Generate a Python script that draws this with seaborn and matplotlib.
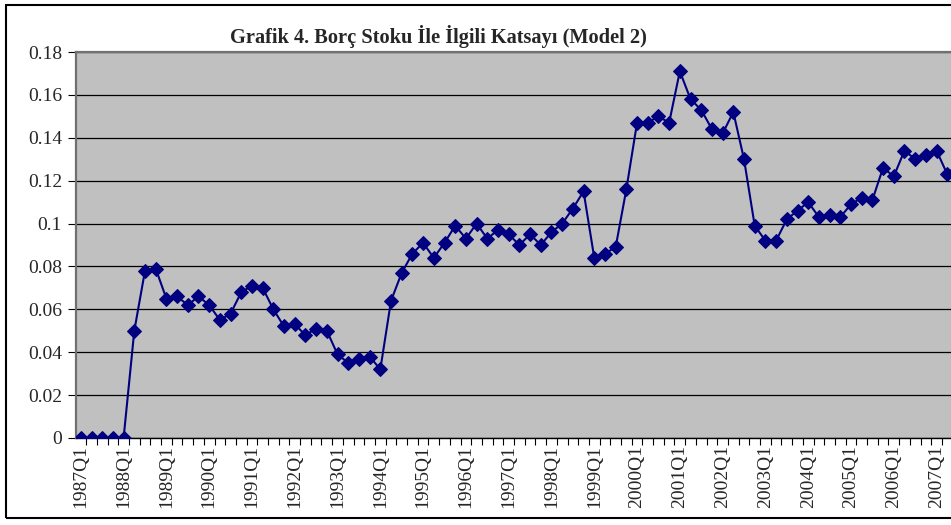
# -*- coding: utf-8 -*-

import matplotlib
matplotlib.use("Agg")
import matplotlib.pyplot as plt
from matplotlib.patches import Rectangle
import seaborn as sns
import pandas as pd
import numpy as np

years = list(range(1987, 2008))
quarters = [f"{y}Q{q}" for y in years for q in range(1, 5)][:83]

values = [
    0.000, 0.000, 0.000, 0.000,   # 1987
    0.000, 0.050, 0.078, 0.079,   # 1988
    0.065, 0.066, 0.062, 0.066,   # 1989
    0.062, 0.055, 0.058, 0.068,   # 1990
    0.071, 0.070, 0.060, 0.052,   # 1991
    0.053, 0.048, 0.051, 0.050,   # 1992
    0.039, 0.035, 0.037, 0.038,   # 1993
    0.032, 0.064, 0.077, 0.086,   # 1994
    0.091, 0.084, 0.091, 0.099,   # 1995
    0.093, 0.100, 0.093, 0.097,   # 1996
    0.095, 0.090, 0.095, 0.090,   # 1997
    0.096, 0.100, 0.107, 0.115,   # 1998
    0.084, 0.086, 0.089, 0.116,   # 1999
    0.147, 0.147, 0.150, 0.147,   # 2000
    0.171, 0.158, 0.153, 0.144,   # 2001
    0.142, 0.152, 0.130, 0.099,   # 2002
    0.092, 0.092, 0.102, 0.106,   # 2003
    0.110, 0.103, 0.104, 0.103,   # 2004
    0.109, 0.112, 0.111, 0.126,   # 2005
    0.122, 0.134, 0.130, 0.132,   # 2006
    0.134, 0.123, 0.128,          # 2007
]

title = "Grafik 4. Borç Stoku İle İlgili Katsayı (Model 2)"

df = pd.DataFrame({"Donem": quarters, "Katsayi": values})
df["idx"] = np.arange(len(df))

sns.set_style("white", {"axes.facecolor": "#c0c0c0"})
plt.rcParams["font.family"] = ["Liberation Serif", "DejaVu Serif"]

fig = plt.figure(figsize=(9.51, 5.25), dpi=100)
ax = fig.add_axes([76 / 951, 87 / 525, 1 - 76 / 951, 386 / 525])

sns.lineplot(data=df, x="idx", y="Katsayi", ax=ax, color="#000080",
             linewidth=1.5, marker="D", markersize=7,
             markeredgecolor="#000080", zorder=3)

ax.set_yticks(np.arange(0, 0.181, 0.02))
ax.set_yticklabels(["{:g}".format(round(v, 2)) for v in np.arange(0, 0.181, 0.02)],
                   fontsize=14)
ax.yaxis.grid(True, color="black", linewidth=0.9)
ax.set_axisbelow(True)

# labels on every year, tick marks between quarters
ax.set_xticks(df["idx"][::4])
ax.set_xticklabels(df["Donem"][::4], rotation=90, fontsize=14)
ax.set_xticks(np.arange(-0.5, len(df), 1), minor=True)
ax.tick_params(axis="x", which="major", length=0, pad=5)
ax.tick_params(axis="x", which="minor", length=5, width=0.8, color="black",
               direction="out", bottom=True)
ax.tick_params(axis="y", length=6, width=0.8, color="black", direction="out",
               left=True, pad=4)
ax.set_xlabel("")
ax.set_ylabel("")

ax.set_xlim(-0.45, 81.35)
ax.set_ylim(0, 0.18)

for s in ["left", "top"]:
    ax.spines[s].set_color("#707070")
    ax.spines[s].set_linewidth(1.6)
ax.spines["bottom"].set_color("black")
ax.spines["bottom"].set_linewidth(1.0)
ax.spines["right"].set_visible(False)

fig.text(438 / 951, 1 - 37 / 525, title, ha="center", va="center",
         fontsize=14.7, fontweight="bold")

fig.patches.append(Rectangle((6 / 951, 7 / 525), 1.2, 513 / 525,
                             transform=fig.transFigure, fill=False,
                             edgecolor="black", linewidth=1.5))

fig.savefig("out.png", dpi=100)
